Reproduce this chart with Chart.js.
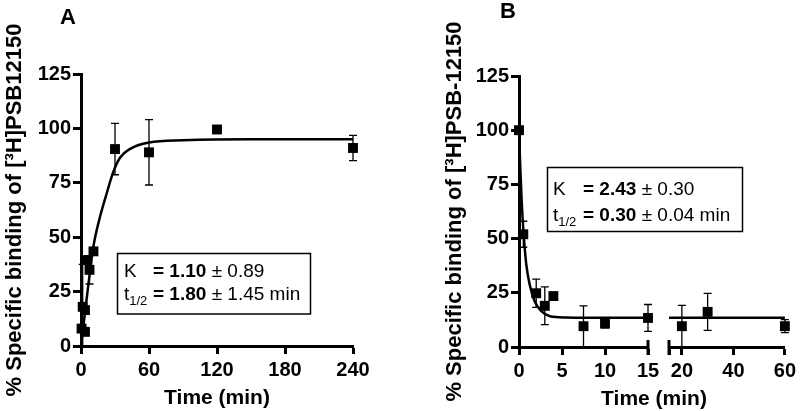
<!DOCTYPE html>
<html lang="en">
<head>
<meta charset="UTF-8">
<title>[3H]PSB-12150 binding kinetics</title>
<script src="https://cdn.jsdelivr.net/npm/chart.js@4.4.1/dist/chart.umd.min.js"></script>
<style>
    body { margin: 0; background: #ffffff; }
    .wrap { position: relative; width: 800px; height: 411px; }
    .wrap canvas { position: absolute; left: 0; top: 0; }
</style>
</head>
<body>
<div class="wrap">
    <canvas id="chartA" width="800" height="411"></canvas>
    <canvas id="chartB1" width="800" height="411"></canvas>
    <canvas id="chartB2" width="800" height="411"></canvas>
</div>
<script>
// Panel A - association
const assocTime    = [0.5, 1.5, 3.5, 3.5, 5.5, 7.5, 11, 30, 60, 120, 240];
const assocBinding = [8, 18, 16.5, 6.5, 39.5, 35, 43.5, 90.5, 89, 99.5, 91];
const assocError   = [0, 19.5, 0, 0, 0, 6.5, 0, 11.8, 15, 0, 5.8];
const assocFitTime    = [0, 3, 6, 10.9, 16.8, 22.7, 28.5, 34.4, 43, 60, 90, 150, 240];
const assocFitBinding = [0, 13, 26, 45.6, 59.4, 70.2, 80, 86.5, 90.5, 93.5, 94.5, 95, 95];
const assocTicks = [0, 60, 120, 180, 240];

// Panel B - dissociation, 0-15 min segment
const dissocTime    = [0, 0.5, 2, 3, 4, 7.5, 10, 15];
const dissocBinding = [100, 52, 24.8, 19, 23.5, 9.6, 10.8, 13.4];
const dissocError   = [0, 6, 6.5, 8.7, 0, 9.4, 2, 6.2];
const dissocFitTime    = [0, 0.15, 0.31, 0.54, 0.85, 1.24, 1.82, 2.6, 3.6, 5.5, 8, 15];
const dissocFitBinding = [100, 82.7, 67.4, 52, 38, 28.8, 21.1, 16.5, 14.2, 13.6, 13.5, 13.5];
const dissocTicks = [0, 5, 10, 15];

// Panel B - 15-60 min segment
const lateTime    = [20, 30, 60];
const lateBinding = [9.6, 16.2, 9.6];
const lateError   = [9.6, 8.5, 3];
const lateFitTime    = [15, 60];
const lateFitBinding = [13.5, 13.5];
const lateTicks = [15, 20, 40, 60];

const yTicks = [0, 25, 50, 75, 100, 125];

const FONT = "'Liberation Sans', Arial, Helvetica, sans-serif";
Chart.defaults.font.family = FONT;
Chart.defaults.color = '#000';
Chart.defaults.animation = false;
Chart.defaults.plugins.legend.display = false;
Chart.defaults.plugins.tooltip.enabled = false;

function pairs(xs, ys) {
    return xs.map((x, i) => ({ x: x, y: ys[i] }));
}

function pointSet(xs, ys, errs) {
    return {
        data: pairs(xs, ys),
        errorBars: errs,
        showLine: false,
        pointStyle: 'rect',
        pointRadius: 7,
        pointBackgroundColor: '#000',
        pointBorderWidth: 0,
        clip: false
    };
}

function fitSet(xs, ys) {
    return {
        data: pairs(xs, ys),
        showLine: true,
        borderColor: '#000',
        borderWidth: 2.5,
        pointRadius: 0,
        cubicInterpolationMode: 'monotone'
    };
}

function xAxis(min, max, ticks, height, title, blank) {
    return {
        type: 'linear',
        min: min,
        max: max,
        afterBuildTicks: s => { s.ticks = ticks.map(v => ({ value: v })); },
        afterFit: s => { s.height = height; },
        border: { color: '#000', width: 3 },
        grid: { drawOnChartArea: false, drawTicks: true, tickLength: 8, tickColor: '#000', tickWidth: 3 },
        ticks: {
            padding: 4,
            color: '#000',
            font: { size: 20, weight: 'bold' },
            callback: v => (blank && blank.includes(v)) ? '' : v
        },
        title: {
            display: !!title,
            text: title || '',
            color: '#000',
            font: { size: 21, weight: 'bold', lineHeight: 1.2 },
            padding: { top: 0, bottom: 0 }
        }
    };
}

function yAxis(width, title, show) {
    return {
        type: 'linear',
        display: show,
        min: 0,
        max: 125,
        afterBuildTicks: s => { s.ticks = yTicks.map(v => ({ value: v })); },
        afterFit: s => { s.width = width; },
        border: { color: '#000', width: 3 },
        grid: { drawOnChartArea: false, drawTicks: true, tickLength: 8, tickColor: '#000', tickWidth: 3 },
        ticks: { padding: 2, color: '#000', font: { size: 20, weight: 'bold' } },
        title: {
            display: !!title,
            text: title || '',
            color: '#000',
            font: { size: 22, weight: 'bold', lineHeight: 1.2 },
            padding: { top: 2, bottom: 0 }
        }
    };
}

// error bars drawn under the markers
const errorBars = {
    id: 'errorBars',
    beforeDatasetsDraw(chart) {
        const ctx = chart.ctx;
        const y = chart.scales.y;
        ctx.save();
        ctx.strokeStyle = '#000';
        ctx.lineWidth = 1.3;
        chart.data.datasets.forEach((ds, i) => {
            if (!ds.errorBars) return;
            chart.getDatasetMeta(i).data.forEach((pt, j) => {
                const e = ds.errorBars[j];
                if (!e) return;
                const v = ds.data[j].y;
                const top = y.getPixelForValue(v + e);
                const low = Math.max(v - e, y.min);
                const bot = y.getPixelForValue(low);
                ctx.beginPath();
                ctx.moveTo(pt.x, top);
                ctx.lineTo(pt.x, bot);
                ctx.moveTo(pt.x - 4, top);
                ctx.lineTo(pt.x + 4, top);
                if (low > y.min) {
                    ctx.moveTo(pt.x - 4, bot);
                    ctx.lineTo(pt.x + 4, bot);
                }
                ctx.stroke();
            });
        });
        ctx.restore();
    }
};

// end caps where the x axis is broken
function breakCaps(values) {
    return {
        id: 'breakCaps',
        afterDraw(chart) {
            const ctx = chart.ctx;
            const x = chart.scales.x;
            const yb = chart.chartArea.bottom;
            ctx.save();
            ctx.strokeStyle = '#000';
            ctx.lineWidth = 3;
            values.forEach(v => {
                const px = x.getPixelForValue(v);
                ctx.beginPath();
                ctx.moveTo(px, yb - 7);
                ctx.lineTo(px, yb + 8);
                ctx.stroke();
            });
            ctx.restore();
        }
    };
}

// panel letter, fit-parameter box and loose labels
function notes(cfg) {
    return {
        id: 'notes',
        afterDraw(chart) {
            const ctx = chart.ctx;
            ctx.save();
            ctx.fillStyle = '#000';
            ctx.textBaseline = 'alphabetic';
            (cfg.labels || []).forEach(l => {
                ctx.font = l.font;
                ctx.textAlign = 'center';
                ctx.fillText(l.text, l.x, l.y);
            });
            ctx.textAlign = 'left';
            if (cfg.box) {
                const b = cfg.box;
                ctx.strokeStyle = '#000';
                ctx.lineWidth = 1.5;
                ctx.strokeRect(b.x, b.y, b.w, b.h);
                const normal = '19px ' + FONT;
                const bold = 'bold 19px ' + FONT;
                const small = '13px ' + FONT;
                const runs = (x, y, list) => {
                    list.forEach(r => {
                        ctx.font = r[1];
                        ctx.fillText(r[0], x, y + (r[2] || 0));
                        x += ctx.measureText(r[0]).width;
                    });
                };
                runs(b.textX, b.line1, [['K', normal]]);
                runs(b.eqX, b.line1, [['= ' + b.k, bold], [' \u00b1 ' + b.kErr, normal]]);
                runs(b.textX, b.line2, [['t', normal], ['1/2', small, 5]]);
                runs(b.eqX, b.line2, [['= ' + b.t, bold], [' \u00b1 ' + b.tErr + ' min', normal]]);
            }
            ctx.restore();
        }
    };
}

new Chart(document.getElementById('chartA'), {
    type: 'scatter',
    data: {
        datasets: [
            fitSet(assocFitTime, assocFitBinding),
            pointSet(assocTime, assocBinding, assocError)
        ]
    },
    options: {
        responsive: false,
        layout: { padding: { left: 0, right: 447, top: 74, bottom: 0 } },
        scales: {
            x: xAxis(0, 240, assocTicks, 65, 'Time (min)'),
            y: yAxis(81, '% Specific binding of [\u00b3H]PSB12150', true)
        }
    },
    plugins: [errorBars, notes({
        labels: [{ text: 'A', x: 68, y: 24, font: 'bold 22px ' + FONT }],
        box: { x: 117.5, y: 253.5, w: 193, h: 60.5, textX: 124, eqX: 153, line1: 277, line2: 300,
               k: '1.10', kErr: '0.89', t: '1.80', tErr: '1.45' }
    })]
});

new Chart(document.getElementById('chartB1'), {
    type: 'scatter',
    data: {
        datasets: [
            fitSet(dissocFitTime, dissocFitBinding),
            pointSet(dissocTime, dissocBinding, dissocError)
        ]
    },
    options: {
        responsive: false,
        layout: { padding: { left: 440, right: 152, top: 76, bottom: 0 } },
        scales: {
            x: xAxis(0, 15, dissocTicks, 64, null),
            y: yAxis(79, '% Specific binding of [\u00b3H]PSB-12150', true)
        }
    },
    plugins: [errorBars, breakCaps([15]), notes({
        labels: [{ text: 'B', x: 508, y: 18, font: 'bold 22px ' + FONT }],
        box: { x: 547.5, y: 167.5, w: 195, h: 64, textX: 553, eqX: 583, line1: 195, line2: 221,
               k: '2.43', kErr: '0.30', t: '0.30', tErr: '0.04' }
    })]
});

new Chart(document.getElementById('chartB2'), {
    type: 'scatter',
    data: {
        datasets: [
            fitSet(lateFitTime, lateFitBinding),
            pointSet(lateTime, lateBinding, lateError)
        ]
    },
    options: {
        responsive: false,
        layout: { padding: { left: 669, right: 12, top: 76, bottom: 0 } },
        scales: {
            x: xAxis(15, 60, lateTicks, 64, null, [15]),
            y: yAxis(0, null, false)
        }
    },
    plugins: [errorBars, breakCaps([15]), notes({
        labels: [{ text: 'Time (min)', x: 654, y: 405, font: 'bold 21px ' + FONT }]
    })]
});
</script>
</body>
</html>
